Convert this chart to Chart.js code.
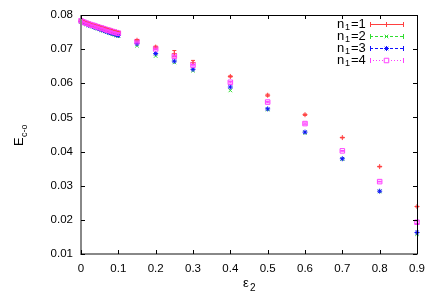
<!DOCTYPE html>
<html>
<head>
<meta charset="utf-8">
<script src="https://cdn.jsdelivr.net/npm/chart.js@4/dist/chart.umd.min.js"></script>
<style>
  html, body { margin: 0; padding: 0; background: #fff; }
  #wrap { width: 436px; height: 305px; }
</style>
</head>
<body>
<div id="wrap"><canvas id="chart" width="436" height="305"></canvas></div>
<script>
// epsilon_2 values
const eps = [0, 0.005, 0.01, 0.015, 0.02, 0.025, 0.03, 0.035, 0.04, 0.045, 0.05,
             0.055, 0.06, 0.065, 0.07, 0.075, 0.08, 0.085, 0.09, 0.095, 0.1,
             0.15, 0.2, 0.25, 0.3, 0.4, 0.5, 0.6, 0.7, 0.8, 0.9];

const n1 = [0.0783, 0.0781, 0.0779, 0.0777, 0.0775, 0.0773, 0.0771, 0.0770, 0.0768, 0.0766, 0.0765,
            0.0763, 0.0761, 0.0760, 0.0758, 0.0756, 0.0755, 0.0753, 0.0752, 0.0750, 0.0749,
            0.0726, 0.0706, 0.0687, 0.0661, 0.0620, 0.0565, 0.0508, 0.0441, 0.0356, 0.0239];
const n2 = [0.0780, 0.0777, 0.0775, 0.0772, 0.0770, 0.0768, 0.0766, 0.0764, 0.0762, 0.0760, 0.0758,
            0.0756, 0.0754, 0.0752, 0.0750, 0.0748, 0.0746, 0.0744, 0.0742, 0.0740, 0.0738,
            0.0710, 0.0680, 0.0661, 0.0637, 0.0579, 0.0523, 0.0455, 0.0378, 0.0283, 0.0158];
const n3 = [0.0781, 0.0778, 0.0776, 0.0774, 0.0771, 0.0769, 0.0767, 0.0765, 0.0763, 0.0761, 0.0759,
            0.0757, 0.0755, 0.0753, 0.0751, 0.0749, 0.0747, 0.0746, 0.0744, 0.0742, 0.0740,
            0.0716, 0.0687, 0.0665, 0.0641, 0.0589, 0.0525, 0.0457, 0.0379, 0.0284, 0.0163];
const n4 = [0.0783, 0.0780, 0.0778, 0.0776, 0.0774, 0.0772, 0.0770, 0.0769, 0.0767, 0.0765, 0.0763,
            0.0762, 0.0760, 0.0758, 0.0756, 0.0755, 0.0753, 0.0751, 0.0750, 0.0748, 0.0747,
            0.0722, 0.0701, 0.0679, 0.0653, 0.0603, 0.0545, 0.0482, 0.0402, 0.0312, 0.0193];

// error bars (half widths)
const err1 = [0.0002, 0.0002, 0.0002, 0.0002, 0.0002, 0.0002, 0.0002, 0.0002, 0.0002, 0.0002, 0.0002,
              0.0002, 0.0002, 0.0002, 0.0002, 0.0002, 0.0002, 0.0002, 0.0002, 0.0002, 0.0002,
              0.0002, 0.0003, 0.0009, 0.0006, 0.0002, 0.0003, 0.0002, 0.0001, 0.0001, 0.0001];
const err4 = [0.0001, 0.0001, 0.0001, 0.0001, 0.0001, 0.0001, 0.0001, 0.0001, 0.0001, 0.0001, 0.0001,
              0.0001, 0.0001, 0.0001, 0.0001, 0.0001, 0.0001, 0.0001, 0.0001, 0.0001, 0.0001,
              0.0002, 0.0002, 0.0002, 0.0002, 0.0002, 0.0002, 0.0002, 0.0001, 0.0001, 0.0004];

const xTicks = [0, 0.1, 0.2, 0.3, 0.4, 0.5, 0.6, 0.7, 0.8, 0.9];
const yTicks = [0.01, 0.02, 0.03, 0.04, 0.05, 0.06, 0.07, 0.08];

const labels = ['1', '2', '3', '4'];
const colors = ['#ff4040', '#30dd30', '#1010ff', '#ff40ff'];
const styles = ['cross', 'crossRot', 'star', 'rect'];
const radii = [2.5, 2.5, 2.5, 3.2];
const dashes = [[], [3, 2], [3, 2], [1, 2]];

const FONT = '"Liberation Sans", Arial, sans-serif';

function pts(vals) {
  return eps.map((x, i) => ({ x: x, y: vals[i] }));
}

const series = [n1, n2, n3, n4];
const errs = [err1, null, null, err4];

const datasets = series.map((vals, i) => ({
  label: 'n1=' + labels[i],
  data: pts(vals),
  borderColor: colors[i],
  backgroundColor: i === 3 ? 'rgba(0,0,0,0)' : colors[i],
  pointStyle: styles[i],
  pointRadius: radii[i],
  pointBorderWidth: 1,
  showLine: false,
  clip: false,
  order: 4 - i
}));

const gnuplotDecor = {
  id: 'gnuplotDecor',
  afterDatasetsDraw(chart) {
    const ctx = chart.ctx;
    const xs = chart.scales.x, ys = chart.scales.y;
    const a = chart.chartArea;
    ctx.save();

    // error bars
    errs.forEach((e, si) => {
      if (!e) return;
      ctx.strokeStyle = colors[si];
      ctx.lineWidth = 1;
      series[si].forEach((v, i) => {
        const px = xs.getPixelForValue(eps[i]);
        const top = ys.getPixelForValue(v + e[i]);
        const bot = ys.getPixelForValue(v - e[i]);
        ctx.beginPath();
        ctx.moveTo(px, top); ctx.lineTo(px, bot);
        ctx.moveTo(px - 2, top); ctx.lineTo(px + 2, top);
        ctx.moveTo(px - 2, bot); ctx.lineTo(px + 2, bot);
        ctx.stroke();
      });
    });

    // border
    ctx.lineWidth = 1;
    ctx.strokeStyle = '#000';
    ctx.beginPath();
    ctx.moveTo(a.left, a.top + 0.5); ctx.lineTo(a.right + 0.5, a.top + 0.5);
    ctx.lineTo(a.right + 0.5, a.bottom);
    ctx.stroke();
    ctx.strokeStyle = '#888';
    ctx.lineWidth = 2;
    ctx.beginPath();
    ctx.moveTo(a.left, a.top); ctx.lineTo(a.left, a.bottom);
    ctx.lineTo(a.right + 1, a.bottom);
    ctx.stroke();

    // inward ticks
    ctx.strokeStyle = '#000';
    ctx.lineWidth = 1;
    ctx.beginPath();
    xTicks.forEach(t => {
      const px = Math.round(xs.getPixelForValue(t)) + 0.5;
      ctx.moveTo(px, a.bottom); ctx.lineTo(px, a.bottom - 4);
      ctx.moveTo(px, a.top); ctx.lineTo(px, a.top + 4);
    });
    yTicks.forEach(t => {
      const py = Math.round(ys.getPixelForValue(t)) + 0.5;
      ctx.moveTo(a.left, py); ctx.lineTo(a.left + 4, py);
      ctx.moveTo(a.right, py); ctx.lineTo(a.right - 4, py);
    });
    ctx.stroke();

    // axis titles
    ctx.fillStyle = '#000';
    ctx.textBaseline = 'alphabetic';
    ctx.font = '13px ' + FONT;
    ctx.textAlign = 'left';
    ctx.fillText('\u03b5', 243, 287);
    ctx.font = '10px ' + FONT;
    ctx.fillText('2', 250, 291);

    ctx.save();
    ctx.translate(23, 146);
    ctx.rotate(-Math.PI / 2);
    ctx.font = '13px ' + FONT;
    ctx.fillText('E', 0, 0);
    ctx.font = '9px ' + FONT;
    ctx.fillText('c-o', 9, 4);
    ctx.restore();

    // legend
    const rowY = [24, 36, 48, 60];
    labels.forEach((lab, i) => {
      const y = rowY[i];
      ctx.fillStyle = '#000';
      ctx.textAlign = 'left';
      ctx.textBaseline = 'middle';
      ctx.font = '13px ' + FONT;
      ctx.fillText('n', 337, y);
      ctx.font = '9px ' + FONT;
      ctx.fillText('1', 345, y + 4);
      ctx.font = '13px ' + FONT;
      ctx.fillText('=' + lab, 351, y);

      ctx.strokeStyle = colors[i];
      ctx.lineWidth = 1;
      ctx.setLineDash(dashes[i]);
      ctx.beginPath();
      ctx.moveTo(370, y + 0.5); ctx.lineTo(403, y + 0.5);
      ctx.stroke();
      ctx.setLineDash([]);
      ctx.beginPath();
      ctx.moveTo(370.5, y - 2); ctx.lineTo(370.5, y + 3);
      ctx.moveTo(403.5, y - 2); ctx.lineTo(403.5, y + 3);
      ctx.stroke();
      ctx.fillStyle = i === 3 ? '#fff' : colors[i];
      Chart.helpers.drawPoint(ctx, {
        pointStyle: styles[i],
        radius: radii[i],
        borderWidth: 1
      }, 386.5, y + 0.5);
    });

    ctx.restore();
  }
};

new Chart(document.getElementById('chart').getContext('2d'), {
  type: 'scatter',
  data: { datasets: datasets },
  options: {
    responsive: false,
    animation: false,
    layout: { padding: { top: 15, right: 19, left: 0, bottom: 0 } },
    plugins: { legend: { display: false }, tooltip: { enabled: false } },
    scales: {
      x: {
        type: 'linear', min: 0, max: 0.9,
        border: { display: false },
        grid: { display: false, drawTicks: false },
        afterBuildTicks: s => { s.ticks = xTicks.map(v => ({ value: v })); },
        afterFit: s => { s.height = 51; },
        ticks: {
          padding: 8, color: '#000', maxRotation: 0,
          font: { family: FONT, size: 11.5 },
          callback: v => (v === 0 ? '0' : v.toFixed(1))
        }
      },
      y: {
        type: 'linear', min: 0.01, max: 0.08,
        border: { display: false },
        grid: { display: false, drawTicks: false },
        afterBuildTicks: s => { s.ticks = yTicks.map(v => ({ value: v })); },
        afterFit: s => { s.width = 81; },
        ticks: {
          padding: 8, color: '#000',
          font: { family: FONT, size: 11.5 },
          callback: v => v.toFixed(2)
        }
      }
    }
  },
  plugins: [gnuplotDecor]
});
</script>
</body>
</html>
